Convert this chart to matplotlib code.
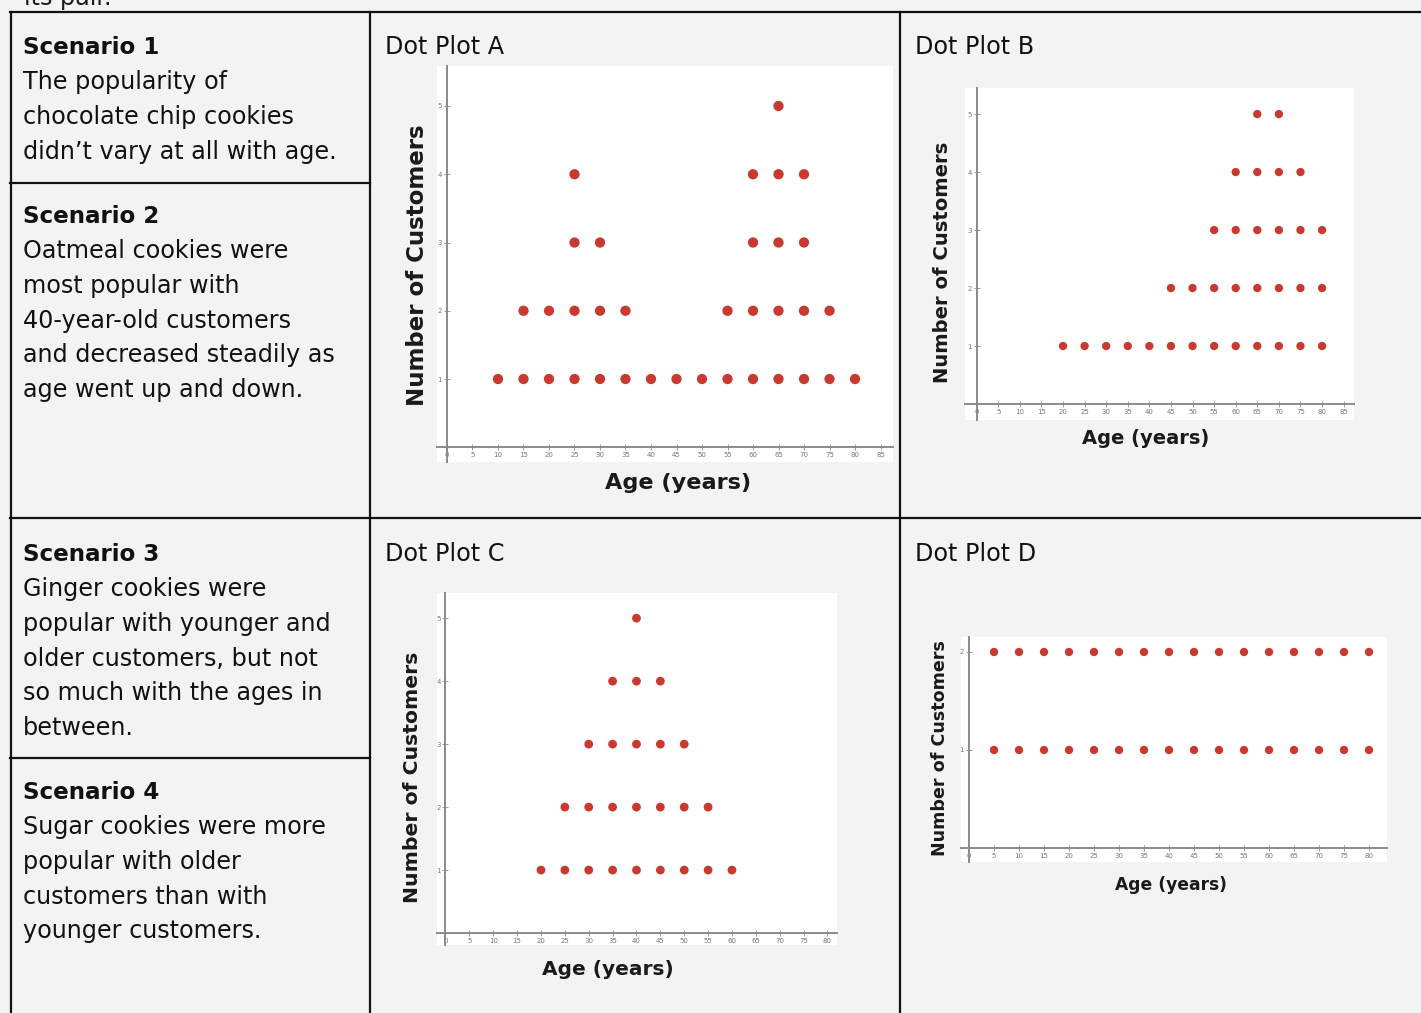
import matplotlib
matplotlib.use('Agg')
import matplotlib.pyplot as plt
from matplotlib.lines import Line2D

# ---------------- data ----------------
A_ages = [10, 15, 20, 25, 30, 35, 40, 45, 50, 55, 60, 65, 70, 75, 80]
A_counts = [1, 2, 2, 4, 3, 2, 1, 1, 1, 2, 4, 5, 4, 2, 1]
B_ages = [20, 25, 30, 35, 40, 45, 50, 55, 60, 65, 70, 75, 80]
B_counts = [1, 1, 1, 1, 1, 2, 2, 3, 4, 5, 5, 4, 3]
C_ages = [20, 25, 30, 35, 40, 45, 50, 55, 60]
C_counts = [1, 2, 3, 4, 5, 4, 3, 2, 1]
D_ages = [5, 10, 15, 20, 25, 30, 35, 40, 45, 50, 55, 60, 65, 70, 75, 80]
D_counts = [2, 2, 2, 2, 2, 2, 2, 2, 2, 2, 2, 2, 2, 2, 2, 2]

x_ticks_85 = list(range(0, 90, 5))
x_ticks_80 = list(range(0, 85, 5))
y_ticks_5 = [1, 2, 3, 4, 5]
y_ticks_2 = [1, 2]

scenario_titles = ["Scenario 1", "Scenario 2", "Scenario 3", "Scenario 4"]
scenario_lines = [
    ["The popularity of", "chocolate chip cookies", "didn\u2019t vary at all with age."],
    ["Oatmeal cookies were", "most popular with", "40-year-old customers",
     "and decreased steadily as", "age went up and down."],
    ["Ginger cookies were", "popular with younger and", "older customers, but not",
     "so much with the ages in", "between."],
    ["Sugar cookies were more", "popular with older", "customers than with",
     "younger customers."],
]
plot_titles = ["Dot Plot A", "Dot Plot B", "Dot Plot C", "Dot Plot D"]

# ---------------- figure ----------------
W, H = 1421, 1013
fig = plt.figure(figsize=(W / 100, H / 100), dpi=100)
fig.patch.set_facecolor('#f3f3f3')

def fx(x):
    return x / W

def fy(y):
    return 1 - y / H

TXT = ['DejaVu Sans']
TS = 17.2

def hline(x0, x1, y):
    fig.add_artist(Line2D([fx(x0), fx(x1)], [fy(y), fy(y)], transform=fig.transFigure,
                          color='#111111', lw=1.6, solid_capstyle='projecting'))

def vline(x, y0, y1):
    fig.add_artist(Line2D([fx(x), fx(x)], [fy(y0), fy(y1)], transform=fig.transFigure,
                          color='#111111', lw=1.6, solid_capstyle='projecting'))

# partial text at top (cut off in the original as well)
fig.text(fx(24), fy(5), "its pair.", fontsize=TS, family=TXT, color='#1a1a1a', va='baseline')

# table lines
hline(10, 1421, 12)
hline(10, 1421, 518)
hline(10, 370, 183)
hline(10, 370, 758)
vline(11, 12, 1013)
vline(370, 12, 1013)
vline(900, 12, 1013)

# scenario text
title_base = [54, 223, 561, 799]
for t, lines, yb in zip(scenario_titles, scenario_lines, title_base):
    fig.text(fx(23), fy(yb), t, fontsize=TS - 0.6, family=TXT, weight='bold',
             color='#111111', va='baseline')
    for i, ln in enumerate(lines):
        fig.text(fx(23), fy(yb + 34.7 * (i + 1) + 0.5), ln, fontsize=TS, family=TXT,
                 color='#111111', va='baseline')

# plot titles
for t, (x, yb) in zip(plot_titles, [(385, 54), (915, 54), (385, 561), (915, 561)]):
    fig.text(fx(x), fy(yb), t, fontsize=TS, family=TXT, color='#111111', va='baseline')

RED = '#c83a30'
AX = '#8a8a8a'
LBL = ['DejaVu Sans']

def dot_plot(box, xlim, ylim, ages, counts, xticks, yticks, s,
             ylab_pos, xlab_pos, ylabsize, xlabsize):
    l, t, r, b = box
    ax = fig.add_axes([fx(l), fy(b), (r - l) / W, (b - t) / H])
    ax.set_facecolor('white')
    xs, ys = [], []
    for a, c in zip(ages, counts):
        for k in range(1, c + 1):
            xs.append(a)
            ys.append(k)
    ax.scatter(xs, ys, s=s, color=RED, edgecolors='none', zorder=3)
    ax.set_xlim(*xlim)
    ax.set_ylim(*ylim)
    for sp in ['top', 'right']:
        ax.spines[sp].set_visible(False)
    for sp in ['left', 'bottom']:
        ax.spines[sp].set_position(('data', 0))
        ax.spines[sp].set_color(AX)
        ax.spines[sp].set_linewidth(1.4)
    ax.set_xticks(xticks)
    ax.set_xticklabels([str(v) for v in xticks])
    ax.set_yticks(yticks)
    ax.set_yticklabels([str(v) for v in yticks])
    ax.tick_params(axis='both', direction='inout', length=4, width=0.6, colors=AX,
                   labelsize=5, pad=1.5, labelcolor='#777777')
    fig.text(fx(ylab_pos[0]), fy(ylab_pos[1]), "Number of Customers", rotation=90,
             fontsize=ylabsize, weight='bold', family=LBL, color='#1a1a1a',
             ha='center', va='center')
    fig.text(fx(xlab_pos[0]), fy(xlab_pos[1]), "Age (years)",
             fontsize=xlabsize, weight='bold', family=LBL, color='#1a1a1a',
             ha='center', va='center')
    return ax

dot_plot((437, 66, 893, 462), (-1.96, 87.45), (-0.216, 5.586), A_ages, A_counts,
         x_ticks_85, y_ticks_5, 55, (417, 265), (678, 483), 16.5, 16.1)
dot_plot((965, 88, 1354, 420), (-2.7, 87.4), (-0.276, 5.45), B_ages, B_counts,
         x_ticks_85, y_ticks_5, 36, (942, 262), (1146, 439), 14.1, 14.0)
dot_plot((437, 593, 837, 945), (-1.78, 82.0), (-0.19, 5.4), C_ages, C_counts,
         x_ticks_80, y_ticks_5, 40, (413, 777), (608, 969), 14.7, 14.5)
dot_plot((961, 637, 1387, 862), (-1.6, 83.6), (-0.143, 2.153), D_ages, D_counts,
         x_ticks_80, y_ticks_2, 36, (940, 748), (1171, 885), 12.6, 12.3)

fig.savefig('out.png', dpi=100, facecolor=fig.get_facecolor())
